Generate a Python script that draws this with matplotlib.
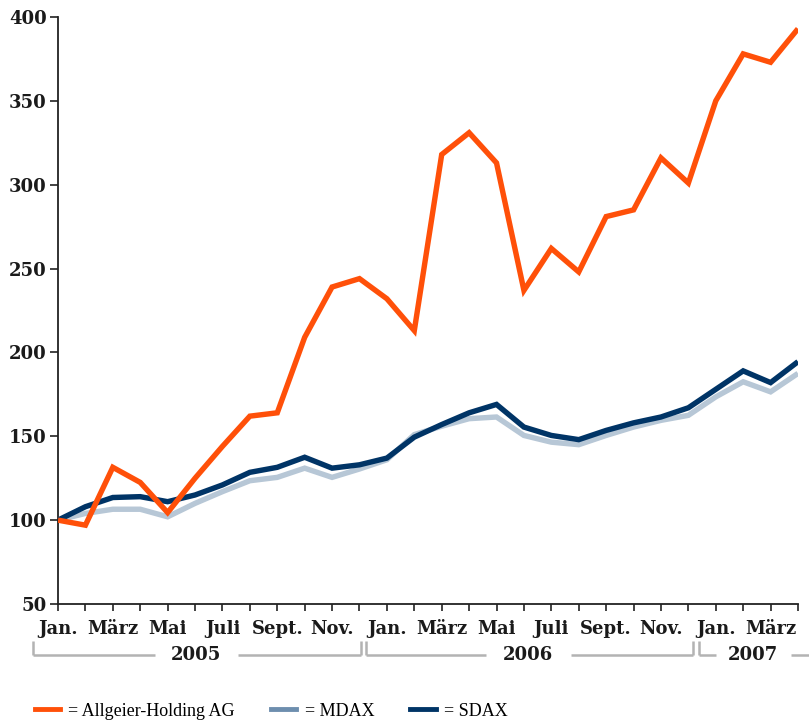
import matplotlib
matplotlib.use("Agg")
import matplotlib.pyplot as plt
from matplotlib.lines import Line2D
import matplotlib.transforms as mtransforms

# ---- data ----
months = list(range(28))  # Jan 2005 .. Apr 2007
month_labels = ["Jan.", "", "März", "", "Mai", "", "Juli", "", "Sept.", "", "Nov.", "",
                "Jan.", "", "März", "", "Mai", "", "Juli", "", "Sept.", "", "Nov.", "",
                "Jan.", "", "März", ""]
allgeier = [100, 97, 131.5, 122.5, 104.5, 125, 144, 162, 164, 209, 239, 244,
            232, 213, 318, 331, 313, 237, 262, 248, 281, 285, 316, 301,
            350, 378, 373, 393]
mdax = [100, 104, 106.5, 106.5, 102, 110, 117, 123.5, 125.5, 131, 125.5, 130.5,
        136, 151, 156, 160.5, 161.5, 150.5, 146.5, 145, 150.5, 155.5, 159.5, 162.5,
        173.5, 182.5, 176.5, 187.5]
sdax = [100, 108, 113.5, 114, 111, 115, 121, 128.5, 131.5, 137.5, 131, 133,
        137, 149.5, 157, 164, 169, 155.5, 150.5, 148, 153.5, 158, 161.5, 167,
        178, 189, 182, 194.5]
years = ["2005", "2006", "2007"]
yticks = [50, 100, 150, 200, 250, 300, 350, 400]

ORANGE = "#ff5009"
MDAX_C = "#b7c7d6"
MDAX_LEG = "#6d8eae"
SDAX_C = "#003466"
GRAY = "#b3b3b3"

fig = plt.figure(figsize=(8.09, 7.22), dpi=100)
ax = fig.add_axes([58/809, 1-604/722, (798-58)/809, (604-17)/722])

lw = 3.9
ax.plot(months, mdax, color=MDAX_C, lw=lw, solid_joinstyle="miter", solid_capstyle="butt", zorder=2)
ax.plot(months, sdax, color=SDAX_C, lw=lw, solid_joinstyle="miter", solid_capstyle="butt", zorder=3)
ax.plot(months, allgeier, color=ORANGE, lw=lw, solid_joinstyle="miter", solid_capstyle="butt", zorder=4)

ax.set_xlim(0, 27)
ax.set_ylim(50, 400)
ax.set_yticks(yticks)
ax.set_xticks(months)
ax.set_xticklabels(month_labels)

for s in ["top", "right"]:
    ax.spines[s].set_visible(False)
for s in ["left", "bottom"]:
    ax.spines[s].set_linewidth(1.3)
    ax.spines[s].set_color("#222222")

FS = 13
for lab in ax.get_xticklabels() + ax.get_yticklabels():
    lab.set_fontfamily("DejaVu Serif")
    lab.set_fontweight("bold")
    lab.set_fontsize(FS)
    lab.set_color("#1a1a1a")
ax.tick_params(axis="x", direction="out", length=5, width=1.2, pad=6.5, colors="#222222")
ax.tick_params(axis="y", direction="out", length=6, width=1.2, pad=2, colors="#222222")
for lab in ax.get_xticklabels() + ax.get_yticklabels():
    lab.set_color("#1a1a1a")

# year brackets
trans = mtransforms.blended_transform_factory(ax.transData, ax.transAxes)
yh = -51/587
yv = -37/587
brackets = [(-0.9, 11.06, 3.55, 6.55, 5.05, True, True),
            (11.24, 23.17, 15.6, 18.7, 17.15, True, True),
            (23.4, 27.4, 24.0, 26.75, 25.35, True, False)]
for (x0, x1, g0, g1, xt, lend, rend), yr in zip(brackets, years):
    kw = dict(color=GRAY, lw=1.8, transform=trans, clip_on=False, solid_capstyle="butt")
    ax.add_line(Line2D([x0, g0], [yh, yh], **kw))
    ax.add_line(Line2D([g1, x1], [yh, yh], **kw))
    if lend:
        ax.add_line(Line2D([x0, x0], [yh, yv], **kw))
    if rend:
        ax.add_line(Line2D([x1, x1], [yh, yv], **kw))
    ax.text(xt, yh, yr, transform=trans, ha="center", va="center",
            fontfamily="DejaVu Serif", fontweight="bold", fontsize=FS, color="#1a1a1a")

handles = [Line2D([], [], color=ORANGE, lw=3.5),
           Line2D([], [], color=MDAX_LEG, lw=3.5),
           Line2D([], [], color=SDAX_C, lw=3.5)]
labels = ["= Allgeier-Holding AG", "= MDAX", "= SDAX"]
fig.legend(handles, labels, loc="center left", bbox_to_anchor=(35/809, 1-711/722),
           ncol=3, frameon=False, handlelength=1.4, handletextpad=0.45,
           columnspacing=2.0, borderpad=0, borderaxespad=0,
           prop=dict(family="Liberation Serif", size=13))

fig.savefig("out.png", dpi=100)
